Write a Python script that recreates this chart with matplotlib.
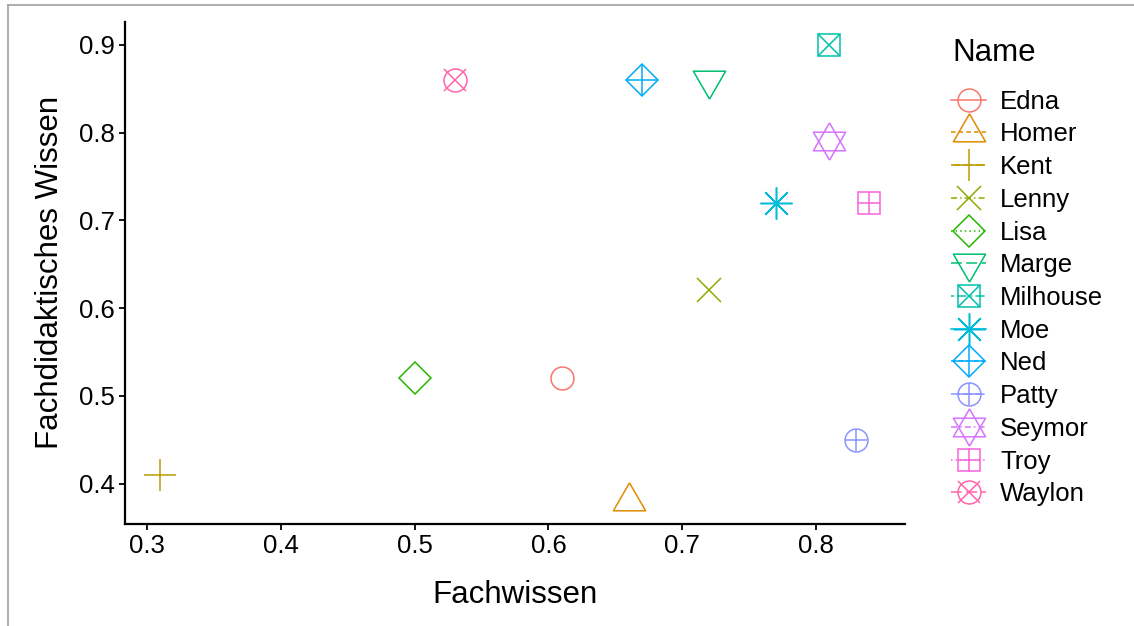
import matplotlib
matplotlib.use("Agg")
import matplotlib.pyplot as plt
from matplotlib.lines import Line2D
from matplotlib.legend_handler import HandlerTuple

plt.rcParams['font.family'] = ['Liberation Sans', 'DejaVu Sans']

# data
names = ["Edna", "Homer", "Kent", "Lenny", "Lisa", "Marge", "Milhouse",
         "Moe", "Ned", "Patty", "Seymor", "Troy", "Waylon"]
fachwissen = [0.61, 0.66, 0.31, 0.72, 0.50, 0.72, 0.81, 0.77, 0.67, 0.83, 0.81, 0.84, 0.53]
fachdidaktik = [0.52, 0.38, 0.41, 0.62, 0.52, 0.86, 0.90, 0.72, 0.86, 0.45, 0.79, 0.72, 0.86]
colors = ["#F8766D", "#E18A00", "#BE9C00", "#8CAB00", "#24B700", "#00BE70", "#00C1AB",
          "#00BBDA", "#00ACFC", "#8B93FF", "#D575FE", "#F962DD", "#FF65AC"]

# triangles centred on their centroid, like ggplot's shapes 2 / 6 / 11
tri_up = [(0, 1), (-0.866, -0.5), (0.866, -0.5), (0, 1)]
tri_dn = [(0, -1), (-0.866, 0.5), (0.866, 0.5), (0, -1)]

# ggplot-like shapes built from overlaid matplotlib markers (marker, size)
shapes = [
    [("o", 16.5)],
    [(tri_up, 26.8)],
    [("+", 23)],
    [("x", 17)],
    [("D", 16.3)],
    [(tri_dn, 26.8)],
    [("s", 16.5), ("x", 16.5)],
    [((8, 2, 0), 23)],
    [("D", 16.3), ("+", 23)],
    [("o", 16.5), ("+", 16.5)],
    [(tri_up, 26.8), (tri_dn, 26.8)],
    [("s", 16.5), ("+", 16.5)],
    [("o", 16.5), ("x", 16.5)],
]
linestyles = ["-", (0, (3, 2)), (0, (6, 2)), (0, (4, 2, 1, 2)), (0, (1, 2)), (0, (7, 3)),
              (0, (2, 2, 6, 2)), "-", (0, (3, 2)), (0, (6, 2)), (0, (4, 2, 1, 2)),
              (0, (1, 2)), (0, (7, 3))]
mew = 1.1

fig = plt.figure(figsize=(11.34, 6.26), dpi=100)
ax = fig.add_axes([0.1102, 0.163, 0.798 - 0.1102, 0.965 - 0.163])

handles = []
for i, name in enumerate(names):
    parts = []
    for j, (mk, ms) in enumerate(shapes[i]):
        ax.plot([fachwissen[i]], [fachdidaktik[i]], linestyle="none", marker=mk,
                markersize=ms, markerfacecolor="none", markeredgecolor=colors[i],
                markeredgewidth=mew, zorder=3)
        h = Line2D([], [], color=colors[i], marker=mk, markersize=ms,
                   markerfacecolor="none", markeredgecolor=colors[i], markeredgewidth=mew,
                   linestyle=linestyles[i] if j == 0 else "none", linewidth=1.1)
        parts.append(h)
    handles.append(tuple(parts))

ax.set_xlim(0.2835, 0.8665)
ax.set_ylim(0.354, 0.926)
ax.set_xticks([0.3, 0.4, 0.5, 0.6, 0.7, 0.8])
ax.set_yticks([0.4, 0.5, 0.6, 0.7, 0.8, 0.9])
ax.set_xticklabels(["0.3", "0.4", "0.5", "0.6", "0.7", "0.8"])
ax.set_yticklabels(["0.4", "0.5", "0.6", "0.7", "0.8", "0.9"])

for s in ["top", "right"]:
    ax.spines[s].set_visible(False)
for s in ["left", "bottom"]:
    ax.spines[s].set_linewidth(1.6)
ax.tick_params(direction="out", length=4, width=1.3, labelsize=18.5, colors="black", pad=3)

ax.set_xlabel("Fachwissen", fontsize=22.5, labelpad=16)
ax.set_ylabel("Fachdidaktisches Wissen", fontsize=22.5, labelpad=10)

leg = fig.legend(handles, names, handler_map={tuple: HandlerTuple(ndivide=1)},
                 loc="center left", bbox_to_anchor=(0.839, 1 - 298 / 626), frameon=False,
                 fontsize=18.5, handlelength=1.35, handletextpad=0.55, labelspacing=0.34,
                 borderpad=0, borderaxespad=0, numpoints=1)
fig.text(952 / 1134, 1 - 53 / 626, "Name", fontsize=22.5, ha="left", va="center")

# grey frame of the screenshot
fig.add_artist(Line2D([8 / 1134, 8 / 1134], [0, 1 - 5 / 626], color="#A0A0A0", linewidth=1.2))
fig.add_artist(Line2D([8 / 1134, 1], [1 - 5 / 626, 1 - 5 / 626], color="#A0A0A0", linewidth=1.2))

fig.savefig("out.png", dpi=100)
